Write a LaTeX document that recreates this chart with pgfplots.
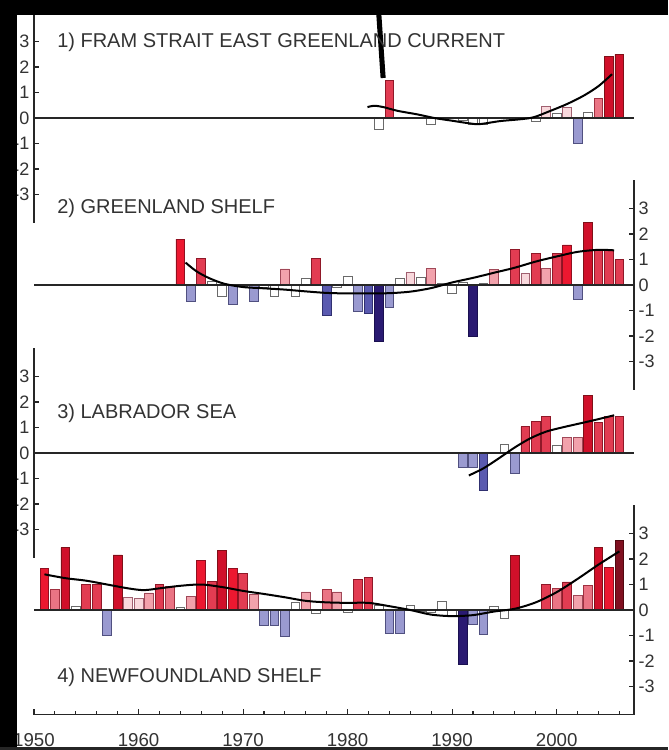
\documentclass[border=0pt]{standalone}
\usepackage{pgfplots}
\pgfplotsset{compat=1.18}
\usepackage{pgfplotstable}
\usepackage{fontspec}
\setmainfont{Liberation Sans}

% bar colours, graded by anomaly (fill / outline)
\definecolor{nA}{HTML}{2A1A72}\definecolor{nAd}{HTML}{1A1050}
\definecolor{nB}{HTML}{3A3AA0}\definecolor{nBd}{HTML}{202060}
\definecolor{nC}{HTML}{5A5AB0}\definecolor{nCd}{HTML}{303070}
\definecolor{nD}{HTML}{9A9AD0}\definecolor{nDd}{HTML}{505080}
\definecolor{wZ}{HTML}{FFFFFF}\definecolor{wZd}{HTML}{6A6A6A}
\definecolor{pL}{HTML}{F8D8DC}\definecolor{pLd}{HTML}{A06070}
\definecolor{pA}{HTML}{F2A2AC}\definecolor{pAd}{HTML}{A04858}
\definecolor{pB}{HTML}{EA7484}\definecolor{pBd}{HTML}{A03040}
\definecolor{pC}{HTML}{E23C52}\definecolor{pCd}{HTML}{901828}
\definecolor{pD}{HTML}{EC1830}\definecolor{pDd}{HTML}{901020}
\definecolor{pE}{HTML}{D0102A}\definecolor{pEd}{HTML}{801018}
\definecolor{pF}{HTML}{801020}\definecolor{pFd}{HTML}{500810}

% 1) Fram Strait / East Greenland Current
\pgfplotstableread{
year val
1983 -0.44
1984 1.48
1988 -0.24
1991 -0.10
1992 -0.25
1993 -0.25
1998 -0.15
1999 0.45
2000 0.20
2001 0.40
2002 -1.00
2003 0.22
2004 0.78
2005 2.40
2006 2.50
}\framdata

% 2) Greenland shelf
\pgfplotstableread{
year val
1964 1.80
1965 -0.65
1966 1.05
1967 0.13
1968 -0.46
1969 -0.76
1970 -0.06
1971 -0.63
1972 -0.10
1973 -0.43
1974 0.63
1975 -0.46
1976 0.24
1977 1.05
1978 -1.20
1979 -0.10
1980 0.33
1981 -1.02
1982 -1.11
1983 -2.22
1984 -0.88
1985 0.26
1986 0.48
1987 0.30
1988 0.65
1989 0.05
1990 -0.33
1991 0.10
1992 -2.03
1993 0.05
1994 0.61
1996 1.40
1997 0.46
1998 1.24
1999 0.65
2000 1.24
2001 1.57
2002 -0.56
2003 2.44
2004 1.37
2005 1.37
2006 1.00
}\greenlanddata

% 3) Labrador Sea
\pgfplotstableread{
year val
1991 -0.55
1992 -0.55
1993 -1.48
1995 0.33
1996 -0.80
1997 1.03
1998 1.24
1999 1.44
2000 0.29
2001 0.61
2002 0.61
2003 2.25
2004 1.20
2005 1.45
2006 1.42
}\labradordata

% 4) Newfoundland shelf
\pgfplotstableread{
year val
1951 1.64
1952 0.80
1953 2.45
1954 0.15
1955 1.02
1956 1.00
1957 -0.98
1958 2.16
1959 0.48
1960 0.44
1961 0.67
1962 1.00
1963 0.93
1964 0.09
1965 0.54
1966 1.94
1967 1.12
1968 2.33
1969 1.64
1970 1.45
1971 0.60
1972 -0.62
1973 -0.62
1974 -1.03
1975 0.28
1976 0.71
1977 -0.15
1978 0.80
1979 0.71
1980 -0.10
1981 1.19
1982 1.28
1983 0.20
1984 -0.92
1985 -0.92
1986 0.20
1987 -0.05
1988 -0.10
1989 0.33
1990 -0.20
1991 -2.13
1992 -0.58
1993 -0.97
1994 0.15
1995 -0.32
1996 2.13
1999 1.00
2000 0.84
2001 1.10
2002 0.58
2003 0.97
2004 2.45
2005 1.68
2006 2.74
}\newfounddata

\pgfplotsset{
  panel/.style={
    scale only axis, width=450pt, height=156.8pt,
    xmin=1950, xmax=2007.4, ymin=-4.1, ymax=4.1,
    ytick={-3,-2,-1,0,1,2,3},
    major tick length=4pt, minor tick length=2.5pt,
    axis line style={line width=0.9pt, black!85},
    every tick/.style={black!85, line width=0.8pt},
    yticklabel style={font=\fontsize{13.5}{14}\selectfont, text=black!80},
    /pgf/number format/assume math mode=true,
    clip=false},
  leftpanel/.style={panel, axis y line*=left, axis x line=none},
  rightpanel/.style={panel, axis y line*=right, axis x line=none},
  anom/.style n args={4}{ybar, bar width=0.84, bar shift=0pt,
    line width=0.6pt, fill=#3, draw=#4, restrict y to domain=#1:#2},
  zeroline/.style={line width=1.3pt, black!85},
  trend/.style={black, line width=1.5pt, smooth},
}

% every anomaly class of one table as its own bar plot
\newcommand\anombars[1]{%
  \addplot[anom={-10}{-2.0001}{nA}{nAd}] table {#1};
  \addplot[anom={-2}{-1.5001}{nB}{nBd}] table {#1};
  \addplot[anom={-1.5}{-1.0801}{nC}{nCd}] table {#1};
  \addplot[anom={-1.08}{-0.5001}{nD}{nDd}] table {#1};
  \addplot[anom={-0.5}{0.3999}{wZ}{wZd}] table {#1};
  \addplot[anom={0.4}{0.4999}{pL}{pLd}] table {#1};
  \addplot[anom={0.5}{0.7499}{pA}{pAd}] table {#1};
  \addplot[anom={0.75}{0.9999}{pB}{pBd}] table {#1};
  \addplot[anom={1.0}{1.4999}{pC}{pCd}] table {#1};
  \addplot[anom={1.5}{1.9999}{pD}{pDd}] table {#1};
  \addplot[anom={2.0}{2.5999}{pE}{pEd}] table {#1};
  \addplot[anom={2.6}{10}{pF}{pFd}] table {#1};
  \addplot[zeroline] coordinates {(1950,0) (2007.4,0)};
}

\begin{document}
\begin{tikzpicture}
\useasboundingbox (0,0) rectangle (501pt,562.5pt);
\fill[white] (0,0) rectangle (501pt,562.5pt);

% 1) Fram Strait
\begin{axis}[leftpanel, at={(25.5pt,395.59pt)}, anchor=south west]
  \anombars{\framdata}
  \addplot[trend] coordinates {(1981.9,0.43) (1982.6,0.48) (1983.5,0.42) (1984.8,0.28)
    (1986.7,0.14) (1988.3,0.0) (1989.9,-0.1) (1991.5,-0.2) (1992.6,-0.24)
    (1994.6,-0.12) (1996.5,-0.05) (1997.8,0.03) (1999.4,0.28) (2001.0,0.55)
    (2002.6,0.88) (2004.0,1.25) (2005.3,1.72)};
  \draw[line width=3.8pt] (axis cs:1982.95,4.3) -- (axis cs:1983.40,1.57);
\end{axis}

% 2) Greenland shelf
\begin{axis}[rightpanel, at={(25.5pt,270.34pt)}, anchor=south west]
  \anombars{\greenlanddata}
  \addplot[trend] coordinates {(1964.5,0.88) (1965.5,0.55) (1966.7,0.28) (1968.2,0.05)
    (1970,-0.08) (1972,-0.13) (1974,-0.18) (1976,-0.25) (1978,-0.31) (1980,-0.33)
    (1982,-0.33) (1984,-0.32) (1986,-0.26) (1988,-0.12) (1990,0.1) (1992,0.28)
    (1994,0.48) (1996,0.68) (1998,0.92) (2000,1.12) (2002,1.3) (2004,1.38) (2005.5,1.36)};
\end{axis}

% 3) Labrador Sea
\begin{axis}[leftpanel, at={(25.5pt,144.34pt)}, anchor=south west]
  \anombars{\labradordata}
  \addplot[trend] coordinates {(1991.6,-0.88) (1993,-0.6) (1994.5,-0.2) (1996,0.22)
    (1997.5,0.58) (1999,0.84) (2000.5,1.0) (2002,1.14) (2003.5,1.28) (2005.5,1.48)};
\end{axis}

% 4) Newfoundland shelf, with the shared year axis
\begin{axis}[panel, at={(25.5pt,26.59pt)}, anchor=south west,
    axis y line*=right, axis x line*=bottom,
    xtick={1950,1960,...,2000}, minor xtick={1952,1954,...,2006},
    xticklabel style={font=\fontsize{14}{14}\selectfont, text=black!80, yshift=-11pt,
      /pgf/number format/1000 sep={}}]
  \anombars{\newfounddata}
  \addplot[trend] coordinates {(1951,1.4) (1953,1.25) (1955,1.15) (1957,1.0) (1959,0.85)
    (1960.5,0.78) (1962,0.85) (1964,0.95) (1966,1.0) (1968,0.9) (1970,0.75)
    (1972,0.63) (1974,0.5) (1976,0.36) (1978,0.3) (1980,0.28) (1982,0.28)
    (1984,0.15) (1986,0.0) (1988,-0.18) (1990,-0.24) (1992,-0.2) (1994,-0.06)
    (1996,0.05) (1998,0.3) (2000,0.7) (2002,1.22) (2004,1.78) (2006,2.3)};
\end{axis}

% panel titles
\begin{scope}[every node/.style={anchor=west, text=black!80,
    font=\fontsize{15}{15}\selectfont, inner sep=0pt}]
  \node at (42.75pt,531pt) {1) FRAM STRAIT EAST GREENLAND CURRENT};
  \node at (42.75pt,406.5pt) {2) GREENLAND SHELF};
  \node at (42.75pt,252.75pt) {3) LABRADOR SEA};
  \node at (42.75pt,54.75pt) {4) NEWFOUNDLAND SHELF};
\end{scope}

% dark frame strips
\fill[black] (0,0) rectangle (12.4pt,562.5pt);
\fill[black] (0,551pt) rectangle (501pt,562.5pt);
\fill[black!85] (0,0) rectangle (501pt,2.25pt);
\end{tikzpicture}
\end{document}
